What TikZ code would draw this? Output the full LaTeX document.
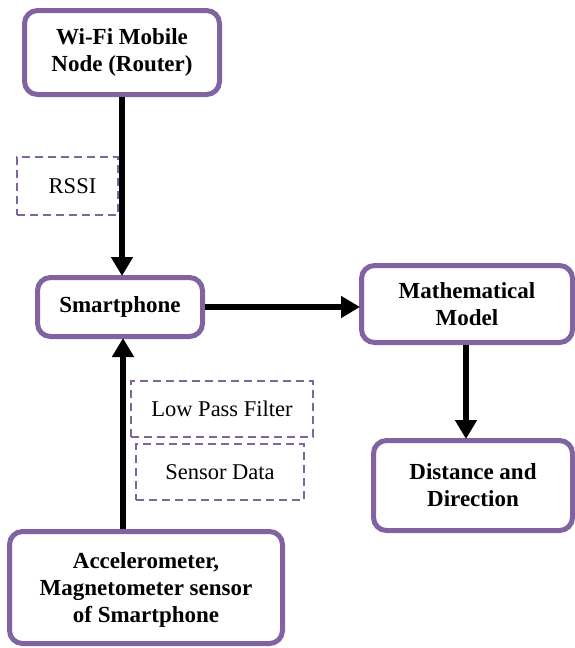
\documentclass[tikz,border=0pt]{standalone}
\usepackage{fontspec}
\setmainfont{Liberation Serif}
\usetikzlibrary{arrows.meta}
\definecolor{boxpurple}{RGB}{128,100,162}
\tikzset{
  mainbox/.style={draw=boxpurple, line width=5pt, rounded corners=13pt, fill=white,
    align=center, inner sep=0pt, font=\fontsize{23}{27}\selectfont\bfseries},
  dashbox/.style={draw=boxpurple, line width=1.8pt, dash pattern=on 8pt off 5pt,
    align=center, inner sep=0pt, font=\fontsize{22.5}{27}\selectfont},
  flow/.style={line width=6.5pt, -{Triangle[length=19pt,width=21pt]}, shorten >=-1pt}
}
\begin{document}
\begin{tikzpicture}[x=1pt,y=-1pt]
\useasboundingbox (0,0) rectangle (575,648);
\node[mainbox, minimum width=195pt, minimum height=84pt] (wifi) at (122,52.5) {Wi-Fi Mobile\\Node (Router)};
\node[mainbox, minimum width=165pt, minimum height=59pt] (phone) at (120,307) {Smartphone};
\node[mainbox, minimum width=211pt, minimum height=77pt] (math) at (467,304) {Mathematical\\Model};
\node[mainbox, minimum width=199pt, minimum height=90pt] (dist) at (473,485.5) {Distance and\\Direction};
\node[mainbox, minimum width=273pt, minimum height=112pt] (acc) at (146,587.5) {\raisebox{0pt}[20pt][0pt]{}Accelerometer,\\Magnetometer sensor\\of Smartphone};
\node[dashbox, minimum width=101pt, minimum height=58pt] (rssi) at (67.5,186) {\hspace*{10pt}RSSI};
\node[dashbox, minimum width=182pt, minimum height=56pt] (lpf) at (222,409) {Low Pass Filter};
\node[dashbox, minimum width=168pt, minimum height=56pt] (sens) at (220,472) {Sensor Data};
\draw[flow] (wifi.south -| 122,0) -- (phone.north -| 122,0);
\draw[flow] (acc.north -| 123,0) -- (phone.south -| 123,0);
\draw[flow] (phone.east) -- (math.west |- phone.east);
\draw[flow] (math.south -| 466,0) -- (dist.north -| 466,0);
\end{tikzpicture}
\end{document}
